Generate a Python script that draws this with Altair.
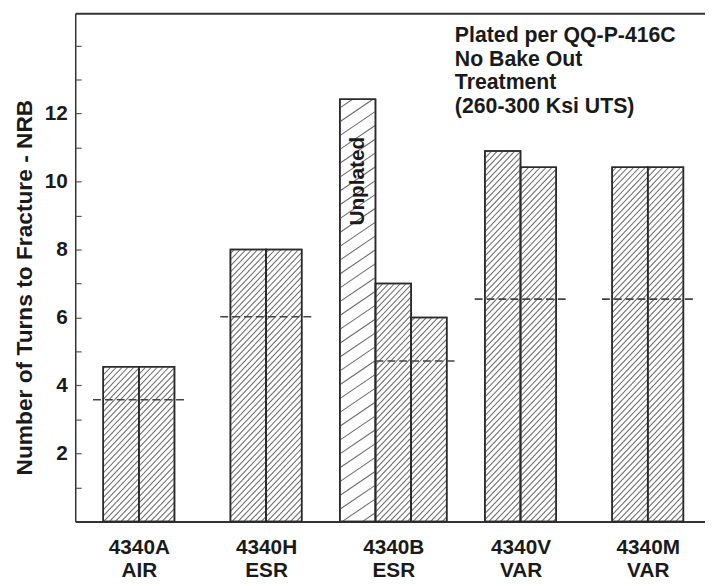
import json
import altair as alt
import pandas as pd

# ---------------- data ----------------
alloys = ["4340A", "4340H", "4340B", "4340V", "4340M"]
processes = ["AIR", "ESR", "ESR", "VAR", "VAR"]

bar_alloy = ["4340A", "4340A", "4340H", "4340H", "4340B", "4340B", "4340B",
             "4340V", "4340V", "4340M", "4340M"]
bar_turns = [4.55, 4.55, 8.0, 8.0, 12.42, 7.0, 6.0, 10.9, 10.42, 10.42, 10.42]
bar_plated = [True, True, True, True, False, True, True, True, True, True, True]

ref_turns = [3.58, 6.02, 4.72, 6.54, 6.54]   # dashed reference level per alloy

note_lines = ["Plated per QQ-P-416C", "No Bake Out", "Treatment", "(260-300 Ksi UTS)"]
unplated_label = "Unplated"
y_title = "Number of Turns to Fracture - NRB"
y_label_values = [2, 4, 6, 8, 10, 12]
y_tick_values = list(range(1, 15))

# ---------------- layout / style constants ----------------
W, H = 637, 514
XMIN, XMAX = -0.5, 4.45
YMAX = 14.95
BW = 0.28          # bar width in group-index units
MARGIN = 0.08      # dashed line overhang
PPX = W / (XMAX - XMIN)
PPY = H / YMAX
FONT = "Liberation Sans"
INK = "#1a1a1a"

# ---------------- tables built from the lists ----------------
rows = []
for g, a in enumerate(alloys):
    idx = [i for i, b in enumerate(bar_alloy) if b == a]
    n = len(idx)
    for k, i in enumerate(idx):
        x0 = g + (k - n / 2) * BW
        rows.append({"alloy": a, "turns": bar_turns[i], "plated": bar_plated[i],
                     "x0": x0, "x1": x0 + BW, "base": 0.0, "label": unplated_label})
bars = pd.DataFrame(rows)

ref_rows = []
for g, a in enumerate(alloys):
    sub = bars[bars.alloy == a]
    pl = sub[sub.plated]
    has_unplated = (~sub.plated).any()
    xs = pl.x0.min() - (0 if has_unplated else MARGIN)
    xe = pl.x1.max() + MARGIN
    ref_rows.append({"alloy": a, "ref": ref_turns[g], "xs": xs, "xe": xe})
refs = pd.DataFrame(ref_rows)

notes = pd.DataFrame({"t": [note_lines]})

label_arr = json.dumps([[a, p] for a, p in zip(alloys, processes)])

x_scale = alt.Scale(domain=[XMIN, XMAX], nice=False, zero=False)
y_scale = alt.Scale(domain=[0, YMAX], nice=False)

x_axis_bottom = alt.Axis(
    values=list(range(len(alloys))), labelExpr=f"{label_arr}[datum.value]",
    ticks=False, grid=False, domain=True, domainColor="#333", domainWidth=2,
    labelFont=FONT, labelFontWeight="bold", labelFontSize=21, labelColor=INK,
    labelPadding=15, labelLineHeight=24, labelFlush=False, labelOverlap=False,
    labelBaseline="top", title=None)
x_axis_top = alt.Axis(orient="top", labels=False, ticks=False, grid=False,
                      domain=True, domainColor="#333", domainWidth=2, title=None)

y_axis_main = alt.Axis(
    values=y_label_values, ticks=False, grid=False, domain=True,
    domainColor="#333", domainWidth=1.5,
    labelFont=FONT, labelFontWeight="bold", labelFontSize=21, labelColor=INK,
    labelPadding=8, title=y_title, titleFont=FONT, titleFontWeight="bold",
    titleFontSize=23, titleColor=INK, titleAngle=270, titleX=-51, titleY=277,
    titleAlign="center", titleBaseline="middle")
y_axis_ticks = alt.Axis(orient="right", offset=-W, values=y_tick_values,
                        labels=False, domain=False, grid=False, ticks=True,
                        tickSize=6, tickColor="#555", tickWidth=1.2, title=None)

base = alt.Chart(bars)

bar_fill = base.mark_bar(fill="white", stroke="#333", strokeWidth=1.5).encode(
    x=alt.X("x0:Q", scale=x_scale, axis=x_axis_bottom),
    x2="x1:Q",
    y=alt.Y("turns:Q", scale=y_scale, axis=y_axis_main),
    y2="base:Q",
)

hatch = base.transform_calculate(
    sp="datum.plated ? 6.2 : 14",
    tn="datum.plated ? 1.05 : 0.68",
).transform_calculate(
    wpx=f"(datum.x1 - datum.x0) * {PPX}",
    tpx=f"datum.turns * {PPY}",
    ph=f"(datum.x0 * {PPX} * datum.tn) % datum.sp",
).transform_calculate(
    cs="sequence(-ceil(datum.wpx * datum.tn / datum.sp) - 2, ceil(datum.tpx / datum.sp) + 2)"
).transform_flatten(["cs"]).transform_calculate(
    c="datum.cs * datum.sp + datum.ph"
).transform_calculate(
    us="max(0, -datum.c / datum.tn)",
    ue="min(datum.wpx, (datum.tpx - datum.c) / datum.tn)",
).transform_filter("datum.ue > datum.us + 0.3").transform_calculate(
    hx=f"datum.x0 + datum.us / {PPX}",
    hy=f"(datum.c + datum.us * datum.tn) / {PPY}",
    hx2=f"datum.x0 + datum.ue / {PPX}",
    hy2=f"(datum.c + datum.ue * datum.tn) / {PPY}",
).mark_rule(color="#6a6a6a", strokeWidth=1.05).encode(
    x=alt.X("hx:Q", scale=x_scale, axis=None),
    x2="hx2:Q",
    y=alt.Y("hy:Q", scale=y_scale, axis=y_axis_ticks),
    y2="hy2:Q",
)

bar_outline = base.mark_bar(fill="transparent", stroke="#2a2a2a", strokeWidth=1.6).encode(
    x=alt.X("x0:Q", scale=x_scale, axis=x_axis_top),
    x2="x1:Q",
    y=alt.Y("turns:Q", scale=y_scale, axis=None),
    y2="base:Q",
)

dashed = alt.Chart(refs).mark_rule(color="#444", strokeWidth=1.6, strokeDash=[8, 4]).encode(
    x=alt.X("xs:Q", scale=x_scale, axis=None),
    x2="xe:Q",
    y=alt.Y("ref:Q", scale=y_scale, axis=None),
)

unplated_text = base.transform_filter("!datum.plated").transform_calculate(
    xc="(datum.x0 + datum.x1) / 2"
).mark_text(angle=270, align="right", baseline="middle", dx=-38,
            font=FONT, fontWeight="bold", fontSize=21, color=INK).encode(
    x=alt.X("xc:Q", scale=x_scale, axis=None),
    y=alt.Y("turns:Q", scale=y_scale, axis=None),
    text="label:N",
)

note = alt.Chart(notes).mark_text(align="left", baseline="alphabetic", lineHeight=24,
                                  font=FONT, fontWeight="bold", fontSize=21.5,
                                  color=INK).encode(
    x=alt.value(384), y=alt.value(29), text="t")

chart = alt.layer(bar_fill, hatch, bar_outline, dashed, unplated_text, note).resolve_axis(
    x="independent", y="independent"
).properties(
    width=W, height=H,
    autosize=alt.AutoSizeParams(type="none"),
    padding={"left": 68, "top": 2, "right": 0, "bottom": 62},
    background="white",
).configure_view(stroke="transparent").configure(font=FONT)

chart.save("out.html", embed_options={"renderer": "svg", "actions": False})
